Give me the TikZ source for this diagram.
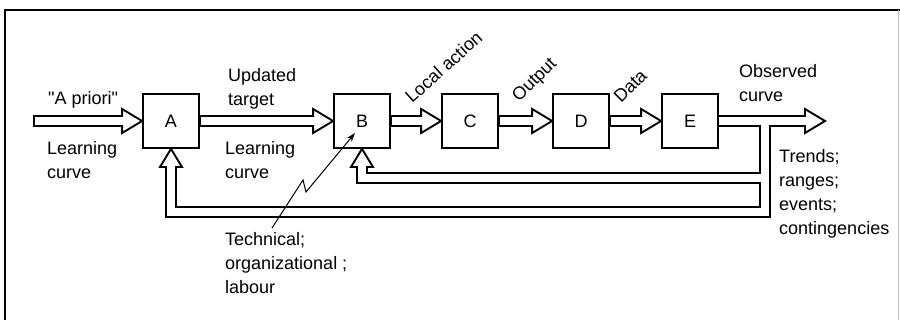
\documentclass[tikz,border=0pt]{standalone}
\usepackage{fontspec}
\setmainfont{Liberation Sans}
\usetikzlibrary{calc,arrows.meta}

\tikzset{
    stage/.style={draw, line width=1.8pt, minimum width=56pt, minimum height=54pt, inner sep=0pt},
    lbl/.style={inner sep=0pt, align=left},
    hollow/.style={line width=1.9pt, to path={let \p1=(\tikztostart), \p2=(\tikztotarget) in
        (\x1,\y2+5pt) -- (\x2-20pt,\y2+5pt) -- (\x2-20pt,\y2+12pt) -- (\x2,\y2)
        -- (\x2-20pt,\y2-12pt) -- (\x2-20pt,\y2-5pt) -- (\x1,\y2-5pt) -- cycle}},
    pipe/.style={line width=1.9pt},
}

\begin{document}
\begin{tikzpicture}[x=1pt, y=-1pt, font=\fontsize{18}{24}\selectfont]
    \useasboundingbox (0,0) rectangle (900,320);
    % Frame
    \draw[line width=2.5pt] (5,330) -- (5,10) -- (905,10);
    \draw[gray!50, line width=0.8pt] (898,10) -- (898,330);

    % Stages
    \node[stage] (A) at (171,121) {A};
    \node[stage] (B) at (362,121) {B};
    \node[stage] (C) at (470,121) {C};
    \node[stage] (D) at (581,121) {D};
    \node[stage] (E) at (690,121) {E};

    % Forward flow
    \coordinate (in) at (34,121);
    \draw[hollow] (in) to (A.west);
    \draw[hollow] (A.east) to (B.west);
    \draw[hollow] (B.east) to (C.west);
    \draw[hollow] (C.east) to (D.west);
    \draw[hollow] (D.east) to (E.west);

    % Output with feedback to B and A
    \coordinate (obs) at (825,121);
    \draw[pipe] ([yshift=-5pt]E.east) -- (760,126) -- (760,173) -- (367,173) -- (367,167) -- (373,167)
        -- (B.south) -- (351,167) -- (357,167) -- (357,183) -- (760,183) -- (760,207)
        -- (176,207) -- (176,167) -- (182,167) -- (A.south) -- (160,167) -- (166,167)
        -- (166,217) -- (770,217) -- (770,126) -- (805,126) -- (805,133) -- (obs)
        -- (805,109) -- (805,116) -- ([yshift=5pt]E.east);

    % Disturbance into B
    \coordinate (tech) at (272,228);
    \draw[line width=1pt, -{Stealth[length=9pt,width=6pt]}] (tech) -- (303,180) -- (306,192) -- ([shift={(-7pt,-12pt)}]B.center);

    % Labels
    \node[lbl, anchor=base west] (apriori) at (48,105) {\textquotedbl A priori\textquotedbl};
    \node[lbl, anchor=north west] (lc1) at (47,141) {Learning\\curve};
    \node[lbl, anchor=north west] (upd) at (228,68) {Updated\\target};
    \node[lbl, anchor=north west] (lc2) at (225,141) {Learning\\curve};
    \node[lbl, anchor=base west, rotate=42] (act) at (412,104) {Local action};
    \node[lbl, anchor=base west, rotate=45] (outp) at (519,103) {Output};
    \node[lbl, anchor=base west, rotate=45] (dat) at (621,104) {Data};
    \node[lbl, anchor=north west] (obsc) at (739,64) {Observed\\curve};
    \node[lbl, anchor=north west] (trd) at (779,149) {Trends;\\ranges;\\events;\\contingencies};
    \node[lbl, anchor=north west] (tec) at (225,232) {Technical;\\organizational ;\\labour};
\end{tikzpicture}
\end{document}
